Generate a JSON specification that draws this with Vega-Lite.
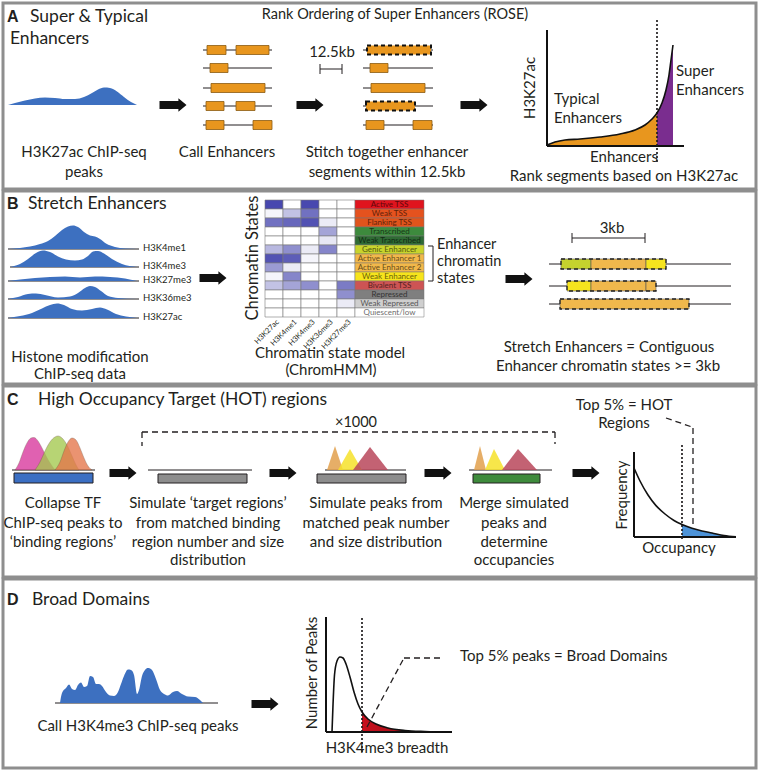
{
"$schema":"https://vega.github.io/schema/vega-lite/v6.json",
"width":759,"height":771,"padding":0,
"autosize":{"type":"fit","contains":"padding"},
"background":"white",
"config":{"view":{"stroke":null}},
"datasets":{
"panels":[{"x":3,"x2":756,"y":3,"y2":189},{"x":3,"x2":756,"y":191,"y2":384},{"x":3,"x2":756,"y":386,"y2":577},{"x":3,"x2":756,"y":579,"y2":768}],
"thin":[
{"x":203,"x2":272,"y":50,"y2":50},{"x":203,"x2":272,"y":68,"y2":68},{"x":203,"x2":272,"y":88,"y2":88},{"x":203,"x2":272,"y":106,"y2":106},{"x":203,"x2":272,"y":125,"y2":125},
{"x":363,"x2":433,"y":50,"y2":50},{"x":363,"x2":433,"y":68,"y2":68},{"x":363,"x2":433,"y":88,"y2":88},{"x":363,"x2":433,"y":106,"y2":106},{"x":363,"x2":433,"y":125,"y2":125},
{"x":320,"x2":342,"y":69,"y2":69},{"x":320,"x2":320,"y":64,"y2":74},{"x":342,"x2":342,"y":64,"y2":74},
{"x":8,"x2":139,"y":249,"y2":249},{"x":10,"x2":139,"y":267,"y2":267},{"x":8,"x2":139,"y":281,"y2":281},{"x":8,"x2":139,"y":299,"y2":299},{"x":8,"x2":139,"y":318,"y2":318},
{"x":428,"x2":433,"y":246,"y2":246},{"x":428,"x2":433,"y":281,"y2":281},{"x":433,"x2":433,"y":246,"y2":281},
{"x":572,"x2":645,"y":238,"y2":238},{"x":572,"x2":572,"y":233,"y2":243},{"x":645,"x2":645,"y":233,"y2":243},
{"x":549,"x2":731,"y":264,"y2":264},{"x":549,"x2":731,"y":286,"y2":286},{"x":549,"x2":731,"y":304,"y2":304},
{"x":12,"x2":95,"y":470,"y2":470},{"x":148,"x2":252,"y":470,"y2":470},{"x":325,"x2":406,"y":470,"y2":470},{"x":469,"x2":552,"y":470,"y2":470},
{"x":55,"x2":218,"y":703,"y2":703}],
"axes":[{"x":547,"x2":547,"y":30,"y2":146},{"x":547,"x2":684,"y":146,"y2":146},{"x":634,"x2":634,"y":452,"y2":537},{"x":634,"x2":736,"y":537,"y2":537},{"x":326,"x2":326,"y":617,"y2":732},{"x":326,"x2":452,"y":732,"y2":732}],
"dashed":[{"x":142,"x2":555,"y":432,"y2":432},{"x":142,"x2":142,"y":432,"y2":446},{"x":555,"x2":555,"y":432,"y2":444},{"x":666,"x2":692,"y":418,"y2":427},{"x":693,"x2":693,"y":428,"y2":528},{"x":367,"x2":404,"y":727,"y2":658},{"x":404,"x2":444,"y":658,"y2":658}],
"dotted":[{"x":657,"x2":657,"y":20,"y2":162},{"x":682,"x2":682,"y":445,"y2":540},{"x":362,"x2":362,"y":618,"y2":752}],
"blue":[
{"id":"A","x":8,"y":105,"base":105},{"id":"A","x":15,"y":103,"base":105},{"id":"A","x":25,"y":100.5,"base":105},{"id":"A","x":35,"y":98.5,"base":105},{"id":"A","x":45,"y":97.5,"base":105},{"id":"A","x":55,"y":98,"base":105},{"id":"A","x":65,"y":99,"base":105},{"id":"A","x":75,"y":99,"base":105},{"id":"A","x":84,"y":97,"base":105},{"id":"A","x":92,"y":93,"base":105},{"id":"A","x":98,"y":89.5,"base":105},{"id":"A","x":104,"y":87.5,"base":105},{"id":"A","x":110,"y":88,"base":105},{"id":"A","x":117,"y":91.5,"base":105},{"id":"A","x":124,"y":97,"base":105},{"id":"A","x":131,"y":102,"base":105},{"id":"A","x":137,"y":105,"base":105},
{"id":"K4me1","x":8,"y":249,"base":249},{"id":"K4me1","x":20,"y":248,"base":249},{"id":"K4me1","x":30,"y":246.5,"base":249},{"id":"K4me1","x":40,"y":244,"base":249},{"id":"K4me1","x":48,"y":241,"base":249},{"id":"K4me1","x":55,"y":236,"base":249},{"id":"K4me1","x":62,"y":230,"base":249},{"id":"K4me1","x":68,"y":226.5,"base":249},{"id":"K4me1","x":73,"y":225.5,"base":249},{"id":"K4me1","x":78,"y":227,"base":249},{"id":"K4me1","x":84,"y":232,"base":249},{"id":"K4me1","x":90,"y":235.5,"base":249},{"id":"K4me1","x":95,"y":236.5,"base":249},{"id":"K4me1","x":100,"y":239,"base":249},{"id":"K4me1","x":106,"y":243.5,"base":249},{"id":"K4me1","x":115,"y":247,"base":249},{"id":"K4me1","x":125,"y":248.5,"base":249},{"id":"K4me1","x":137,"y":249,"base":249},
{"id":"K4me3","x":10,"y":267,"base":267},{"id":"K4me3","x":20,"y":264,"base":267},{"id":"K4me3","x":28,"y":259,"base":267},{"id":"K4me3","x":36,"y":253,"base":267},{"id":"K4me3","x":43,"y":250.5,"base":267},{"id":"K4me3","x":50,"y":252,"base":267},{"id":"K4me3","x":58,"y":256.5,"base":267},{"id":"K4me3","x":66,"y":259.5,"base":267},{"id":"K4me3","x":75,"y":260.5,"base":267},{"id":"K4me3","x":82,"y":259.5,"base":267},{"id":"K4me3","x":88,"y":256,"base":267},{"id":"K4me3","x":93,"y":251.5,"base":267},{"id":"K4me3","x":98,"y":251,"base":267},{"id":"K4me3","x":104,"y":253.5,"base":267},{"id":"K4me3","x":112,"y":259,"base":267},{"id":"K4me3","x":122,"y":264,"base":267},{"id":"K4me3","x":137,"y":267,"base":267},
{"id":"K27me3","x":8,"y":281,"base":281},{"id":"K27me3","x":20,"y":279.5,"base":281},{"id":"K27me3","x":35,"y":278,"base":281},{"id":"K27me3","x":50,"y":277,"base":281},{"id":"K27me3","x":65,"y":276.5,"base":281},{"id":"K27me3","x":80,"y":277.5,"base":281},{"id":"K27me3","x":95,"y":276.5,"base":281},{"id":"K27me3","x":110,"y":277,"base":281},{"id":"K27me3","x":125,"y":278.5,"base":281},{"id":"K27me3","x":137,"y":281,"base":281},
{"id":"K36me3","x":8,"y":299,"base":299},{"id":"K36me3","x":18,"y":297,"base":299},{"id":"K36me3","x":28,"y":294,"base":299},{"id":"K36me3","x":36,"y":293.5,"base":299},{"id":"K36me3","x":45,"y":295,"base":299},{"id":"K36me3","x":58,"y":297.5,"base":299},{"id":"K36me3","x":70,"y":296.5,"base":299},{"id":"K36me3","x":78,"y":293,"base":299},{"id":"K36me3","x":85,"y":288,"base":299},{"id":"K36me3","x":90,"y":286,"base":299},{"id":"K36me3","x":95,"y":287,"base":299},{"id":"K36me3","x":101,"y":291,"base":299},{"id":"K36me3","x":108,"y":296,"base":299},{"id":"K36me3","x":118,"y":298,"base":299},{"id":"K36me3","x":137,"y":299,"base":299},
{"id":"K27ac","x":8,"y":318,"base":318},{"id":"K27ac","x":20,"y":316,"base":318},{"id":"K27ac","x":32,"y":313,"base":318},{"id":"K27ac","x":42,"y":308.5,"base":318},{"id":"K27ac","x":50,"y":305,"base":318},{"id":"K27ac","x":57,"y":303.5,"base":318},{"id":"K27ac","x":64,"y":305,"base":318},{"id":"K27ac","x":72,"y":309,"base":318},{"id":"K27ac","x":82,"y":310.5,"base":318},{"id":"K27ac","x":92,"y":309,"base":318},{"id":"K27ac","x":100,"y":307.5,"base":318},{"id":"K27ac","x":107,"y":309.5,"base":318},{"id":"K27ac","x":116,"y":314,"base":318},{"id":"K27ac","x":126,"y":316.5,"base":318},{"id":"K27ac","x":137,"y":318,"base":318},
{"id":"D","x":60,"y":703,"base":703},{"id":"D","x":62,"y":693,"base":703},{"id":"D","x":66,"y":688,"base":703},{"id":"D","x":69,"y":684.5,"base":703},{"id":"D","x":72,"y":689,"base":703},{"id":"D","x":75,"y":690,"base":703},{"id":"D","x":78,"y":685,"base":703},{"id":"D","x":81,"y":682.5,"base":703},{"id":"D","x":84,"y":687,"base":703},{"id":"D","x":87,"y":686,"base":703},{"id":"D","x":90,"y":676,"base":703},{"id":"D","x":93,"y":677,"base":703},{"id":"D","x":96,"y":684,"base":703},{"id":"D","x":99,"y":684,"base":703},{"id":"D","x":102,"y":686,"base":703},{"id":"D","x":106,"y":692,"base":703},{"id":"D","x":110,"y":695.5,"base":703},{"id":"D","x":114,"y":696,"base":703},{"id":"D","x":118,"y":692,"base":703},{"id":"D","x":121,"y":684,"base":703},{"id":"D","x":124,"y":676,"base":703},{"id":"D","x":128,"y":669.5,"base":703},{"id":"D","x":131,"y":670,"base":703},{"id":"D","x":134,"y":675,"base":703},{"id":"D","x":137,"y":694,"base":703},{"id":"D","x":139,"y":690,"base":703},{"id":"D","x":142,"y":676,"base":703},{"id":"D","x":145,"y":670,"base":703},{"id":"D","x":148,"y":668,"base":703},{"id":"D","x":152,"y":670,"base":703},{"id":"D","x":156,"y":679,"base":703},{"id":"D","x":160,"y":690,"base":703},{"id":"D","x":164,"y":694,"base":703},{"id":"D","x":168,"y":695.5,"base":703},{"id":"D","x":173,"y":692,"base":703},{"id":"D","x":177,"y":691,"base":703},{"id":"D","x":182,"y":694,"base":703},{"id":"D","x":188,"y":696.5,"base":703},{"id":"D","x":195,"y":697,"base":703},{"id":"D","x":200,"y":700,"base":703},{"id":"D","x":203,"y":703,"base":703}],
"tf":[
{"id":"TF1","x":15,"y":470,"base":470},{"id":"TF1","x":19,"y":463,"base":470},{"id":"TF1","x":23,"y":452,"base":470},{"id":"TF1","x":27,"y":443,"base":470},{"id":"TF1","x":31,"y":438,"base":470},{"id":"TF1","x":34,"y":437.5,"base":470},{"id":"TF1","x":38,"y":441,"base":470},{"id":"TF1","x":42,"y":448,"base":470},{"id":"TF1","x":46,"y":456,"base":470},{"id":"TF1","x":50,"y":463,"base":470},{"id":"TF1","x":55,"y":470,"base":470},
{"id":"TF2","x":35,"y":470,"base":470},{"id":"TF2","x":40,"y":462,"base":470},{"id":"TF2","x":45,"y":451,"base":470},{"id":"TF2","x":50,"y":442,"base":470},{"id":"TF2","x":55,"y":437,"base":470},{"id":"TF2","x":58,"y":436,"base":470},{"id":"TF2","x":62,"y":438,"base":470},{"id":"TF2","x":67,"y":445,"base":470},{"id":"TF2","x":72,"y":456,"base":470},{"id":"TF2","x":76,"y":465,"base":470},{"id":"TF2","x":79,"y":470,"base":470},
{"id":"TF3","x":55,"y":470,"base":470},{"id":"TF3","x":60,"y":462,"base":470},{"id":"TF3","x":64,"y":451,"base":470},{"id":"TF3","x":68,"y":442,"base":470},{"id":"TF3","x":72,"y":438,"base":470},{"id":"TF3","x":76,"y":440,"base":470},{"id":"TF3","x":80,"y":448,"base":470},{"id":"TF3","x":84,"y":458,"base":470},{"id":"TF3","x":88,"y":466,"base":470},{"id":"TF3","x":92,"y":470,"base":470}],
"tri":[
{"id":"s1","tf":"o","x":327,"y":470,"base":470},{"id":"s1","tf":"o","x":335,"y":446,"base":470},{"id":"s1","tf":"o","x":343,"y":470,"base":470},
{"id":"s2","tf":"y","x":338,"y":470,"base":470},{"id":"s2","tf":"y","x":350,"y":449,"base":470},{"id":"s2","tf":"y","x":362,"y":470,"base":470},
{"id":"s3","tf":"r","x":353,"y":470,"base":470},{"id":"s3","tf":"r","x":370,"y":447,"base":470},{"id":"s3","tf":"r","x":388,"y":470,"base":470},
{"id":"m1","tf":"o","x":474,"y":470,"base":470},{"id":"m1","tf":"o","x":480,"y":446,"base":470},{"id":"m1","tf":"o","x":486,"y":470,"base":470},
{"id":"m2","tf":"y","x":485,"y":470,"base":470},{"id":"m2","tf":"y","x":494,"y":449,"base":470},{"id":"m2","tf":"y","x":505,"y":470,"base":470},
{"id":"m3","tf":"r","x":502,"y":470,"base":470},{"id":"m3","tf":"r","x":518,"y":449,"base":470},{"id":"m3","tf":"r","x":537,"y":470,"base":470}],
"cbars":[{"x":14,"x2":93,"y":473,"y2":483,"k":"tf"},{"x":158,"x2":247,"y":474,"y2":483,"k":"sim"},{"x":317,"x2":406,"y":474,"y2":483,"k":"sim"},{"x":473,"x2":540,"y":474,"y2":483,"k":"merge"}],
"enh":[
{"x":207,"x2":226,"y":45.5,"y2":54.5},{"x":236,"x2":269,"y":45.5,"y2":54.5},{"x":210,"x2":228,"y":63.5,"y2":72.5},{"x":211,"x2":265,"y":83.5,"y2":92.5},{"x":206,"x2":224,"y":101.5,"y2":110.5},{"x":236,"x2":255,"y":101.5,"y2":110.5},{"x":206,"x2":224,"y":120.5,"y2":129.5},{"x":253,"x2":272,"y":120.5,"y2":129.5},
{"x":370,"x2":388,"y":63.5,"y2":72.5},{"x":371,"x2":425,"y":83.5,"y2":92.5},{"x":366,"x2":384,"y":120.5,"y2":129.5},{"x":413,"x2":432,"y":120.5,"y2":129.5}],
"stitched":[{"x":367,"x2":431,"y":45.5,"y2":54.5},{"x":366,"x2":415,"y":101.5,"y2":110.5}],
"cells":[
{"x":265,"x2":283,"y":200,"y2":209,"v":0.9},{"x":283,"x2":301,"y":200,"y2":209,"v":0},{"x":301,"x2":319,"y":200,"y2":209,"v":0.9},{"x":319,"x2":337,"y":200,"y2":209,"v":0},{"x":337,"x2":355,"y":200,"y2":209,"v":0},
{"x":265,"x2":283,"y":209,"y2":218,"v":0.05},{"x":283,"x2":301,"y":209,"y2":218,"v":0.3},{"x":301,"x2":319,"y":209,"y2":218,"v":0.7},{"x":319,"x2":337,"y":209,"y2":218,"v":0},{"x":337,"x2":355,"y":209,"y2":218,"v":0},
{"x":265,"x2":283,"y":218,"y2":227,"v":0.7},{"x":283,"x2":301,"y":218,"y2":227,"v":0.75},{"x":301,"x2":319,"y":218,"y2":227,"v":0.85},{"x":319,"x2":337,"y":218,"y2":227,"v":0.1},{"x":337,"x2":355,"y":218,"y2":227,"v":0},
{"x":265,"x2":283,"y":227,"y2":236,"v":0},{"x":283,"x2":301,"y":227,"y2":236,"v":0},{"x":301,"x2":319,"y":227,"y2":236,"v":0},{"x":319,"x2":337,"y":227,"y2":236,"v":0.45},{"x":337,"x2":355,"y":227,"y2":236,"v":0},
{"x":265,"x2":283,"y":236,"y2":245,"v":0},{"x":283,"x2":301,"y":236,"y2":245,"v":0},{"x":301,"x2":319,"y":236,"y2":245,"v":0},{"x":319,"x2":337,"y":236,"y2":245,"v":0.12},{"x":337,"x2":355,"y":236,"y2":245,"v":0},
{"x":265,"x2":283,"y":245,"y2":254,"v":0.35},{"x":283,"x2":301,"y":245,"y2":254,"v":0.55},{"x":301,"x2":319,"y":245,"y2":254,"v":0.1},{"x":319,"x2":337,"y":245,"y2":254,"v":0.6},{"x":337,"x2":355,"y":245,"y2":254,"v":0},
{"x":265,"x2":283,"y":254,"y2":263,"v":0.85},{"x":283,"x2":301,"y":254,"y2":263,"v":0.8},{"x":301,"x2":319,"y":254,"y2":263,"v":0.05},{"x":319,"x2":337,"y":254,"y2":263,"v":0},{"x":337,"x2":355,"y":254,"y2":263,"v":0},
{"x":265,"x2":283,"y":263,"y2":272,"v":0.5},{"x":283,"x2":301,"y":263,"y2":272,"v":0.1},{"x":301,"x2":319,"y":263,"y2":272,"v":0},{"x":319,"x2":337,"y":263,"y2":272,"v":0},{"x":337,"x2":355,"y":263,"y2":272,"v":0},
{"x":265,"x2":283,"y":272,"y2":281,"v":0.05},{"x":283,"x2":301,"y":272,"y2":281,"v":0.6},{"x":301,"x2":319,"y":272,"y2":281,"v":0},{"x":319,"x2":337,"y":272,"y2":281,"v":0},{"x":337,"x2":355,"y":272,"y2":281,"v":0},
{"x":265,"x2":283,"y":281,"y2":290,"v":0.3},{"x":283,"x2":301,"y":281,"y2":290,"v":0.45},{"x":301,"x2":319,"y":281,"y2":290,"v":0.55},{"x":319,"x2":337,"y":281,"y2":290,"v":0},{"x":337,"x2":355,"y":281,"y2":290,"v":0.65},
{"x":265,"x2":283,"y":290,"y2":299,"v":0},{"x":283,"x2":301,"y":290,"y2":299,"v":0},{"x":301,"x2":319,"y":290,"y2":299,"v":0},{"x":319,"x2":337,"y":290,"y2":299,"v":0},{"x":337,"x2":355,"y":290,"y2":299,"v":0.55},
{"x":265,"x2":283,"y":299,"y2":308,"v":0},{"x":283,"x2":301,"y":299,"y2":308,"v":0},{"x":301,"x2":319,"y":299,"y2":308,"v":0},{"x":319,"x2":337,"y":299,"y2":308,"v":0},{"x":337,"x2":355,"y":299,"y2":308,"v":0.1},
{"x":265,"x2":283,"y":308,"y2":317,"v":0},{"x":283,"x2":301,"y":308,"y2":317,"v":0},{"x":301,"x2":319,"y":308,"y2":317,"v":0},{"x":319,"x2":337,"y":308,"y2":317,"v":0},{"x":337,"x2":355,"y":308,"y2":317,"v":0}],
"states":[
{"state":"Active TSS","x":355,"x2":424,"y":200,"y2":209},{"state":"Weak TSS","x":355,"x2":424,"y":209,"y2":218},{"state":"Flanking TSS","x":355,"x2":424,"y":218,"y2":227},{"state":"Transcribed","x":355,"x2":424,"y":227,"y2":236},{"state":"Weak Transcribed","x":355,"x2":424,"y":236,"y2":245},{"state":"Genic Enhancer","x":355,"x2":424,"y":245,"y2":254},{"state":"Active Enhancer 1","x":355,"x2":424,"y":254,"y2":263},{"state":"Active Enhancer 2","x":355,"x2":424,"y":263,"y2":272},{"state":"Weak Enhancer","x":355,"x2":424,"y":272,"y2":281},{"state":"Bivalent TSS","x":355,"x2":424,"y":281,"y2":290},{"state":"Repressed","x":355,"x2":424,"y":290,"y2":299},{"state":"Weak Repressed","x":355,"x2":424,"y":299,"y2":308},{"state":"Quiescent/low","x":355,"x2":424,"y":308,"y2":317}],
"tState":[
{"text":"Active TSS","x":389.5,"y":204.5},{"text":"Weak TSS","x":389.5,"y":213.5},{"text":"Flanking TSS","x":389.5,"y":222.5},{"text":"Transcribed","x":389.5,"y":231.5},{"text":"Weak Transcribed","x":389.5,"y":240.5},{"text":"Genic Enhancer","x":389.5,"y":249.5},{"text":"Active Enhancer 1","x":389.5,"y":258.5},{"text":"Active Enhancer 2","x":389.5,"y":267.5},{"text":"Weak Enhancer","x":389.5,"y":276.5},{"text":"Bivalent TSS","x":389.5,"y":285.5},{"text":"Repressed","x":389.5,"y":294.5},{"text":"Weak Repressed","x":389.5,"y":303.5},{"text":"Quiescent/low","x":389.5,"y":312.5}],
"segs":[
{"state":"Genic Enhancer","x":561,"x2":591,"y":259,"y2":269},{"state":"Active Enhancer 1","x":591,"x2":646,"y":259,"y2":269},{"state":"Weak Enhancer","x":646,"x2":666,"y":259,"y2":269},
{"state":"Weak Enhancer","x":567,"x2":591,"y":281,"y2":291},{"state":"Active Enhancer 1","x":591,"x2":646,"y":281,"y2":291},{"state":"Active Enhancer 1","x":646,"x2":656,"y":281,"y2":291},
{"state":"Active Enhancer 1","x":560,"x2":689,"y":299,"y2":309}],
"segout":[{"x":561,"x2":666,"y":259,"y2":269},{"x":567,"x2":656,"y":281,"y2":291},{"x":560,"x2":689,"y":299,"y2":309}],
"cfill":[
{"id":"typical","x":547,"y":145,"base":146},{"id":"typical","x":555,"y":142,"base":146},{"id":"typical","x":565,"y":140,"base":146},{"id":"typical","x":580,"y":139,"base":146},{"id":"typical","x":600,"y":137,"base":146},{"id":"typical","x":620,"y":134,"base":146},{"id":"typical","x":635,"y":130,"base":146},{"id":"typical","x":645,"y":125,"base":146},{"id":"typical","x":652,"y":119,"base":146},{"id":"typical","x":657,"y":113,"base":146},
{"id":"super","x":657,"y":113,"base":146},{"id":"super","x":662,"y":103,"base":146},{"id":"super","x":666,"y":90,"base":146},{"id":"super","x":669,"y":75,"base":146},{"id":"super","x":671,"y":60,"base":146},{"id":"super","x":673,"y":45,"base":146},
{"id":"hot","x":682,"y":524.6,"base":537},{"id":"hot","x":692,"y":528.3,"base":537},{"id":"hot","x":702,"y":531,"base":537},{"id":"hot","x":712,"y":533,"base":537},{"id":"hot","x":724,"y":535.5,"base":537},{"id":"hot","x":736,"y":536.8,"base":537}],
"redfill":[{"x":362,"y":712,"base":732},{"x":368,"y":719,"base":732},{"x":376,"y":724,"base":732},{"x":388,"y":728,"base":732},{"x":405,"y":730.5,"base":732},{"x":425,"y":731.5,"base":732},{"x":452,"y":732,"base":732}],
"clines":[
{"id":"rose","x":547,"y":145},{"id":"rose","x":555,"y":142},{"id":"rose","x":565,"y":140},{"id":"rose","x":580,"y":139},{"id":"rose","x":600,"y":137},{"id":"rose","x":620,"y":134},{"id":"rose","x":635,"y":130},{"id":"rose","x":645,"y":125},{"id":"rose","x":652,"y":119},{"id":"rose","x":657,"y":113},{"id":"rose","x":662,"y":103},{"id":"rose","x":666,"y":90},{"id":"rose","x":669,"y":75},{"id":"rose","x":671,"y":60},{"id":"rose","x":673,"y":45},
{"id":"hot","x":634,"y":468},{"id":"hot","x":640,"y":481},{"id":"hot","x":648,"y":495},{"id":"hot","x":656,"y":505.6},{"id":"hot","x":665,"y":514},{"id":"hot","x":674,"y":520.5},{"id":"hot","x":682,"y":524.6},{"id":"hot","x":692,"y":528.3},{"id":"hot","x":702,"y":531},{"id":"hot","x":712,"y":533},{"id":"hot","x":724,"y":535.5},{"id":"hot","x":736,"y":536.8},
{"id":"broad","x":332,"y":732},{"id":"broad","x":333,"y":705},{"id":"broad","x":334.5,"y":675},{"id":"broad","x":337,"y":661},{"id":"broad","x":340,"y":657},{"id":"broad","x":343,"y":658},{"id":"broad","x":346,"y":664},{"id":"broad","x":350,"y":677},{"id":"broad","x":354,"y":692},{"id":"broad","x":358,"y":704},{"id":"broad","x":362,"y":712},{"id":"broad","x":368,"y":719},{"id":"broad","x":376,"y":724},{"id":"broad","x":388,"y":728},{"id":"broad","x":405,"y":730.5},{"id":"broad","x":425,"y":731.5},{"id":"broad","x":452,"y":732}],
"arrows":[{"x":173,"y":105},{"x":310,"y":105},{"x":474,"y":105},{"x":213,"y":278},{"x":519,"y":279},{"x":123,"y":473},{"x":283,"y":473},{"x":438,"y":473},{"x":586,"y":473},{"x":265,"y":704}],
"tLetters":[{"x":7,"y":17,"text":"A"},{"x":7,"y":204,"text":"B"},{"x":7,"y":400,"text":"C"},{"x":7,"y":600,"text":"D"}],
"tHead":[{"x":30,"y":17,"text":"Super & Typical"},{"x":10,"y":39,"text":"Enhancers"},{"x":28,"y":204,"text":"Stretch Enhancers"},{"x":38,"y":400,"text":"High Occupancy Target (HOT) regions"},{"x":32,"y":600,"text":"Broad Domains"}],
"tSmall":[{"x":395,"y":15,"text":"Rank Ordering of Super Enhancers (ROSE)"},{"x":356,"y":423,"text":"×1000"}],
"tBody":[
{"x":84,"y":152,"text":"H3K27ac ChIP-seq"},{"x":84,"y":172,"text":"peaks"},{"x":227,"y":152,"text":"Call Enhancers"},{"x":387,"y":152,"text":"Stitch together enhancer"},{"x":387,"y":172,"text":"segments within 12.5kb"},{"x":332,"y":52,"text":"12.5kb"},{"x":624,"y":157,"text":"Enhancers"},{"x":624,"y":176,"text":"Rank segments based on H3K27ac"},
{"x":80,"y":357,"text":"Histone modification"},{"x":80,"y":374,"text":"ChIP-seq data"},{"x":330,"y":353,"text":"Chromatin state model"},{"x":331,"y":370,"text":"(ChromHMM)"},{"x":612,"y":228,"text":"3kb"},{"x":609,"y":347,"text":"Stretch Enhancers = Contiguous"},{"x":608,"y":366,"text":"Enhancer chromatin states >= 3kb"},
{"x":63,"y":503,"text":"Collapse TF"},{"x":63,"y":523,"text":"ChIP-seq peaks to"},{"x":63,"y":542,"text":"‘binding regions’"},
{"x":208,"y":503,"text":"Simulate ‘target regions’"},{"x":208,"y":523,"text":"from matched binding"},{"x":208,"y":542,"text":"region number and size"},{"x":208,"y":560,"text":"distribution"},
{"x":376,"y":503,"text":"Simulate peaks from"},{"x":376,"y":523,"text":"matched peak number"},{"x":376,"y":542,"text":"and size distribution"},
{"x":514,"y":503,"text":"Merge simulated"},{"x":514,"y":523,"text":"peaks and"},{"x":514,"y":542,"text":"determine"},{"x":514,"y":560,"text":"occupancies"},
{"x":624,"y":405,"text":"Top 5% = HOT"},{"x":624,"y":423,"text":"Regions"},{"x":679,"y":548,"text":"Occupancy"},
{"x":138,"y":726,"text":"Call H3K4me3 ChIP-seq peaks"},{"x":387,"y":748,"text":"H3K4me3 breadth"}],
"tLeft":[{"x":554,"y":99,"text":"Typical"},{"x":554,"y":118,"text":"Enhancers"},{"x":676,"y":71,"text":"Super"},{"x":676,"y":90,"text":"Enhancers"},{"x":460,"y":656,"text":"Top 5% peaks = Broad Domains"}],
"tBracket":[{"x":437,"y":245,"text":"Enhancer"},{"x":437,"y":262,"text":"chromatin"},{"x":437,"y":279,"text":"states"}],
"tRot":[{"x":530,"y":88,"text":"H3K27ac"},{"x":622,"y":495,"text":"Frequency"},{"x":312,"y":673,"text":"Number of Peaks"}],
"tRotBig":[{"x":253,"y":258,"text":"Chromatin States"}],
"tTrack":[{"x":143,"y":248,"text":"H3K4me1"},{"x":143,"y":266,"text":"H3K4me3"},{"x":143,"y":280,"text":"H3K27me3"},{"x":143,"y":298,"text":"H3K36me3"},{"x":143,"y":317,"text":"H3K27ac"}],
"tCol":[{"x":278,"y":321,"text":"H3K27ac"},{"x":296,"y":321,"text":"H3K4me1"},{"x":314,"y":321,"text":"H3K4me3"},{"x":332,"y":321,"text":"H3K36me3"},{"x":350,"y":321,"text":"H3K27me3"}]
},
"encoding":{
"x":{"field":"x","type":"quantitative","scale":{"domain":[0,759],"nice":false,"zero":false},"axis":null},
"y":{"field":"y","type":"quantitative","scale":{"domain":[0,771],"nice":false,"zero":false,"reverse":true},"axis":null}
},
"layer":[
{"data":{"name":"panels"},"mark":{"type":"rect","fill":"white","stroke":"#8e8e8e","strokeWidth":3},"encoding":{"x2":{"field":"x2"},"y2":{"field":"y2"}}},
{"data":{"name":"thin"},"mark":{"type":"rule","stroke":"#231f20","strokeWidth":1},"encoding":{"x2":{"field":"x2"},"y2":{"field":"y2"}}},
{"data":{"name":"blue"},"mark":{"type":"area","fill":"#3d70c0","interpolate":"monotone"},"encoding":{"y2":{"field":"base"},"detail":{"field":"id"}}},
{"data":{"name":"tf"},"mark":{"type":"area","interpolate":"monotone","opacity":0.78,"stroke":"#6b4a3a","strokeWidth":0.4},"encoding":{"y2":{"field":"base"},"detail":{"field":"id"},"fill":{"field":"id","type":"nominal","legend":null,"scale":{"domain":["TF1","TF2","TF3"],"range":["#d8369c","#a4c84e","#e5764a"]}}}},
{"data":{"name":"tri"},"mark":{"type":"area","opacity":0.85},"encoding":{"y2":{"field":"base"},"detail":{"field":"id"},"fill":{"field":"tf","type":"nominal","legend":null,"scale":{"domain":["o","y","r"],"range":["#e2a04c","#f6e22a","#b9475a"]}}}},
{"data":{"name":"cbars"},"mark":{"type":"rect","stroke":"#231f20","strokeWidth":1},"encoding":{"x2":{"field":"x2"},"y2":{"field":"y2"},"fill":{"field":"k","type":"nominal","legend":null,"scale":{"domain":["tf","sim","merge"],"range":["#3b6fc3","#8d8d8d","#3e8b3c"]}}}},
{"data":{"name":"enh"},"mark":{"type":"rect","fill":"#e8961e","stroke":"#8a5a12","strokeWidth":0.8},"encoding":{"x2":{"field":"x2"},"y2":{"field":"y2"}}},
{"data":{"name":"stitched"},"mark":{"type":"rect","fill":"#e8961e","stroke":"#111","strokeWidth":2,"strokeDash":[4,3]},"encoding":{"x2":{"field":"x2"},"y2":{"field":"y2"}}},
{"data":{"name":"cells"},"mark":{"type":"rect","stroke":"#7a7a7a","strokeWidth":0.6},"encoding":{"x2":{"field":"x2"},"y2":{"field":"y2"},"fill":{"field":"v","type":"quantitative","legend":null,"scale":{"domain":[0,1],"range":["#ffffff","#3434a6"],"interpolate":"rgb"}}}},
{"data":{"name":"states"},"mark":{"type":"rect","stroke":"#777","strokeWidth":0.5},"encoding":{"x2":{"field":"x2"},"y2":{"field":"y2"},"fill":{"field":"state","type":"nominal","legend":null,"scale":{"domain":["Active TSS","Weak TSS","Flanking TSS","Transcribed","Weak Transcribed","Genic Enhancer","Active Enhancer 1","Active Enhancer 2","Weak Enhancer","Bivalent TSS","Repressed","Weak Repressed","Quiescent/low"],"range":["#e0141e","#e5521e","#e0541c","#3d8a3d","#2f6b34","#c8d42c","#f2b84a","#f2b84a","#f7e41c","#cd5454","#7f7f7f","#cfcfcf","#ffffff"]}}}},
{"data":{"name":"segs"},"mark":{"type":"rect","stroke":"#555","strokeWidth":0.6},"encoding":{"x2":{"field":"x2"},"y2":{"field":"y2"},"fill":{"field":"state","type":"nominal","legend":null,"scale":{"domain":["Genic Enhancer","Active Enhancer 1","Weak Enhancer"],"range":["#c5d22e","#f0b84c","#f6e41e"]}}}},
{"data":{"name":"segout"},"mark":{"type":"rect","fillOpacity":0,"stroke":"#222","strokeWidth":1.3,"strokeDash":[4,3]},"encoding":{"x2":{"field":"x2"},"y2":{"field":"y2"}}},
{"data":{"name":"cfill"},"mark":{"type":"area","interpolate":"monotone"},"encoding":{"y2":{"field":"base"},"detail":{"field":"id"},"fill":{"field":"id","type":"nominal","legend":null,"scale":{"domain":["typical","super","hot"],"range":["#e8961e","#7a2d8f","#4d93d8"]}}}},
{"data":{"name":"redfill"},"mark":{"type":"area","interpolate":"monotone","fill":{"gradient":"linear","x1":0,"x2":1,"y1":0,"y2":0,"stops":[{"offset":0,"color":"#c8101e"},{"offset":0.35,"color":"#b0101a"},{"offset":0.65,"color":"#3a0608"},{"offset":1,"color":"#000000"}]}},"encoding":{"y2":{"field":"base"}}},
{"data":{"name":"axes"},"mark":{"type":"rule","stroke":"#111","strokeWidth":2},"encoding":{"x2":{"field":"x2"},"y2":{"field":"y2"}}},
{"data":{"name":"dashed"},"mark":{"type":"rule","stroke":"#231f20","strokeWidth":1.3,"strokeDash":[6,4]},"encoding":{"x2":{"field":"x2"},"y2":{"field":"y2"}}},
{"data":{"name":"dotted"},"mark":{"type":"rule","stroke":"#231f20","strokeWidth":1.7,"strokeDash":[2,2]},"encoding":{"x2":{"field":"x2"},"y2":{"field":"y2"}}},
{"data":{"name":"clines"},"mark":{"type":"line","stroke":"#111","strokeWidth":1.6,"interpolate":"monotone"},"encoding":{"detail":{"field":"id"}}},
{"data":{"name":"arrows"},"mark":{"type":"point","shape":"M-1,-0.3L0.4,-0.3L0.4,-0.5L1,0L0.4,0.5L0.4,0.3L-1,0.3Z","size":729,"filled":true,"color":"#111","opacity":1,"strokeWidth":0}},
{"data":{"name":"tLetters"},"mark":{"type":"text","font":"Liberation Sans","fontWeight":"bold","fontSize":16,"align":"left","baseline":"middle","color":"#231f20"},"encoding":{"text":{"field":"text"}}},
{"data":{"name":"tHead"},"mark":{"type":"text","font":"Lato","fontSize":17.5,"align":"left","baseline":"middle","color":"#231f20"},"encoding":{"text":{"field":"text"}}},
{"data":{"name":"tSmall"},"mark":{"type":"text","font":"Lato","fontSize":14.5,"align":"center","baseline":"middle","color":"#231f20"},"encoding":{"text":{"field":"text"}}},
{"data":{"name":"tBody"},"mark":{"type":"text","font":"Lato","fontSize":15,"align":"center","baseline":"middle","color":"#231f20"},"encoding":{"text":{"field":"text"}}},
{"data":{"name":"tLeft"},"mark":{"type":"text","font":"Lato","fontSize":15,"align":"left","baseline":"middle","color":"#231f20"},"encoding":{"text":{"field":"text"}}},
{"data":{"name":"tBracket"},"mark":{"type":"text","font":"Lato","fontSize":14.5,"align":"left","baseline":"middle","color":"#231f20"},"encoding":{"text":{"field":"text"}}},
{"data":{"name":"tRot"},"mark":{"type":"text","font":"Lato","fontSize":15,"align":"center","baseline":"middle","angle":270,"color":"#231f20"},"encoding":{"text":{"field":"text"}}},
{"data":{"name":"tRotBig"},"mark":{"type":"text","font":"Lato","fontSize":16.5,"align":"center","baseline":"middle","angle":270,"color":"#231f20"},"encoding":{"text":{"field":"text"}}},
{"data":{"name":"tTrack"},"mark":{"type":"text","font":"Lato","fontSize":9.5,"align":"left","baseline":"middle","color":"#231f20"},"encoding":{"text":{"field":"text"}}},
{"data":{"name":"tCol"},"mark":{"type":"text","font":"Lato","fontSize":7.5,"align":"right","baseline":"middle","angle":315,"color":"#231f20"},"encoding":{"text":{"field":"text"}}},
{"data":{"name":"tState"},"mark":{"type":"text","font":"Lato","fontSize":8,"align":"center","baseline":"middle","color":"#000","opacity":0.6},"encoding":{"text":{"field":"text"}}}
],
"resolve":{"scale":{"fill":"independent","color":"independent"}}
}
